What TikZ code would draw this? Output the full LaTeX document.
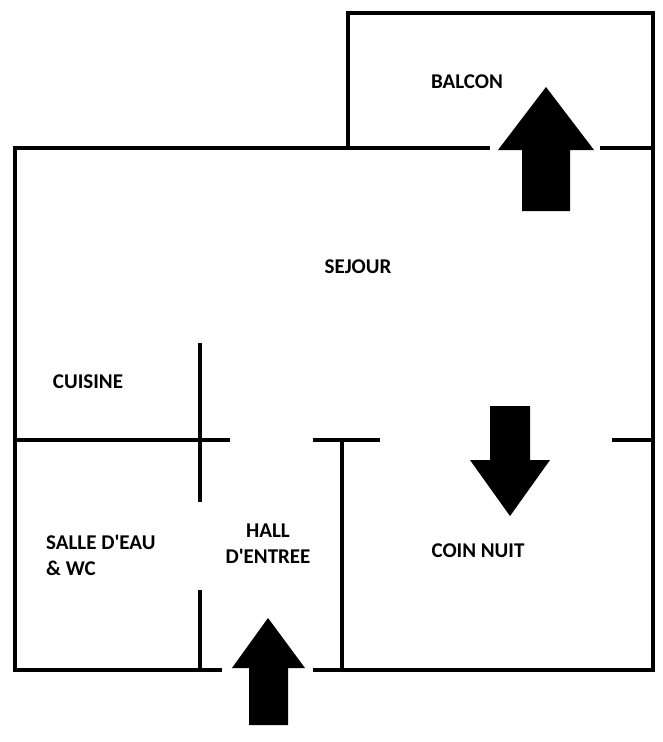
\documentclass[tikz,border=0pt]{standalone}
\usepackage{fontspec}
\setmainfont{Carlito}[Ligatures=TeXOff]
\begin{document}
\begin{tikzpicture}[x=1pt,y=-1pt,wall/.style={line width=4pt},
 lbl/.style={font=\bfseries\fontsize{21}{26}\selectfont,align=center,inner sep=0}]
\useasboundingbox (0,0) rectangle (663,742);
\draw[wall] (348,148) -- (348,13) -- (653,13) -- (653,670) -- (313,670);
\draw[wall] (222,670) -- (15,670) -- (15,148) -- (490,148);
\draw[wall] (600,148) -- (653,148);
\draw[wall] (15,440) -- (230,440);
\draw[wall] (313,440) -- (380,440);
\draw[wall] (612,440) -- (653,440);
\draw[wall] (200,343) -- (200,502);
\draw[wall] (200,590) -- (200,670);
\draw[wall] (342,440) -- (342,670);
\fill (546,87) -- (594,150) -- (570,150) -- (570,211) -- (522,211) -- (522,150) -- (498,150) -- cycle;
\fill (510,516) -- (550,460) -- (530,460) -- (530,406) -- (490,406) -- (490,460) -- (470,460) -- cycle;
\fill (268,618) -- (305,668) -- (288,668) -- (288,725) -- (249,725) -- (249,668) -- (232,668) -- cycle;
\node[lbl] (balcon) at (467,82) {BALCON};
\node[lbl] (sejour) at (358,267) {SEJOUR};
\node[lbl] (cuisine) at (88,382) {CUISINE};
\node[lbl,align=left,anchor=west] (salle) at (46,555) {SALLE D'EAU\\\& WC};
\node[lbl] (hall) at (268,544) {HALL\\D'ENTREE};
\node[lbl] (coin) at (478,551) {COIN NUIT};
\end{tikzpicture}
\end{document}
